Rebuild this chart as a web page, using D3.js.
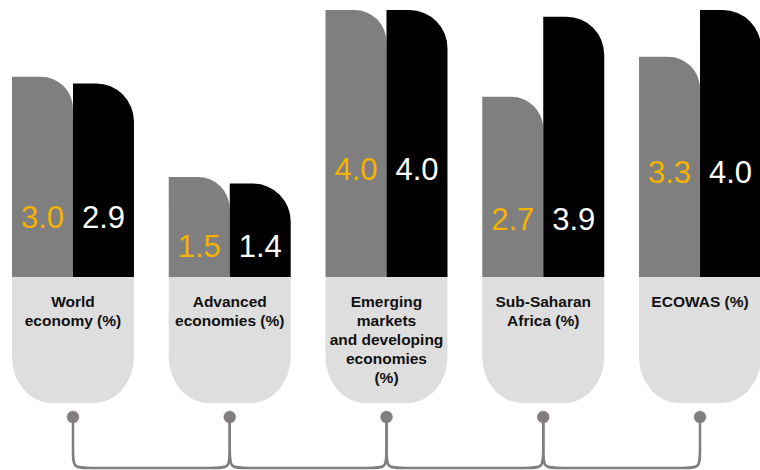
<!DOCTYPE html>
<html>
<head>
<meta charset="utf-8">
<script src="https://cdn.jsdelivr.net/npm/d3@7"></script>
<style>
  body { margin: 0; background: #fff; }
  svg { display: block; font-family: "Liberation Sans", Arial, Helvetica, sans-serif; }
</style>
</head>
<body>
<div id="chart"></div>
<script>
// categories, label lines and the two series (gray = first, black = second)
const categories = ["World", "Advanced", "Emerging", "SSA", "ECOWAS"];
const categoryLines = [
    ["World", "economy (%)"],
    ["Advanced", "economies (%)"],
    ["Emerging", "markets", "and developing", "economies", "(%)"],
    ["Sub-Saharan", "Africa (%)"],
    ["ECOWAS (%)"]
];
const seriesGray = [3.0, 1.5, 4.0, 2.7, 3.3];
const seriesBlack = [2.9, 1.4, 4.0, 3.9, 4.0];

const width = 760, height = 470;
const base = 277;          // bottom of the bars / top of label boxes
const boxBottom = 403;
const dotY = 417;
const lineY = 468;
// small vertical nudges for the value labels
const labelNudge = [1, 4, -28, 0, -37];

const svg = d3.select("#chart").append("svg")
    .attr("width", width)
    .attr("height", height);

const x = d3.scaleBand()
    .domain(categories)
    .range([12, 761])
    .paddingInner(0.222)
    .paddingOuter(0);

const y = d3.scaleLinear()
    .domain([0, 4])
    .range([base, 10]);

const bw = x.bandwidth() / 2;

// bar with a rounded top-right corner
function barPath(x0, w, top, r) {
    const x1 = x0 + w;
    return `M${x0},${base} V${top} H${x1 - r} A${r},${r} 0 0 1 ${x1},${top + r} V${base} Z`;
}

// label box with a rounded bottom
function boxPath(x0, w) {
    const x1 = x0 + w, rx = 40, ry = 46;
    return `M${x0},${base} H${x1} V${boxBottom - ry} A${rx},${ry} 0 0 1 ${x1 - rx},${boxBottom}`
        + ` H${x0 + rx} A${rx},${ry} 0 0 1 ${x0},${boxBottom - ry} Z`;
}

const groups = svg.selectAll(".group")
    .data(categories)
    .join("g")
    .attr("class", "group");

groups.append("path")
    .attr("d", d => boxPath(x(d), x.bandwidth()))
    .attr("fill", "#dedede");

groups.append("path")
    .attr("d", (d, i) => barPath(x(d), bw, y(seriesGray[i]), 32))
    .attr("fill", "#7f7f7f");

groups.append("path")
    .attr("d", (d, i) => barPath(x(d) + bw, bw, y(seriesBlack[i]), 38))
    .attr("fill", "#000");

// value labels
const labelY = i => {
    const top = y(Math.min(seriesGray[i], seriesBlack[i]));
    return top + 0.74 * (base - top) + labelNudge[i];
};

groups.append("text")
    .attr("x", d => x(d) + bw / 2)
    .attr("y", (d, i) => labelY(i))
    .attr("text-anchor", "middle")
    .attr("font-size", 31)
    .attr("fill", "#f5b300")
    .text((d, i) => seriesGray[i].toFixed(1));

groups.append("text")
    .attr("x", d => x(d) + bw * 1.5)
    .attr("y", (d, i) => labelY(i))
    .attr("text-anchor", "middle")
    .attr("font-size", 31)
    .attr("fill", "#fff")
    .text((d, i) => seriesBlack[i].toFixed(1));

// category names
groups.append("text")
    .attr("text-anchor", "middle")
    .attr("font-size", 15.5)
    .attr("font-weight", "bold")
    .attr("fill", "#111")
    .selectAll("tspan")
    .data((d, i) => categoryLines[i].map(t => ({ t, cx: x(d) + x.bandwidth() / 2 })))
    .join("tspan")
    .attr("x", d => d.cx)
    .attr("y", (d, j) => 307 + j * 19)
    .text(d => d.t);

// connectors between neighbouring dots
const cx = d => x(d) + x.bandwidth() / 2;
const r = 20;
const links = d3.pairs(categories);
svg.selectAll(".link")
    .data(links)
    .join("path")
    .attr("class", "link")
    .attr("fill", "none")
    .attr("stroke", "#7f7f7f")
    .attr("stroke-width", 2.5)
    .attr("d", ([a, b]) => {
        const xa = cx(a), xb = cx(b);
        return `M${xa},${dotY} V${lineY - r} C${xa},${lineY} ${xa},${lineY} ${xa + r},${lineY}`
            + ` H${xb - r} C${xb},${lineY} ${xb},${lineY} ${xb},${lineY - r} V${dotY}`;
    });

svg.selectAll(".dot")
    .data(categories)
    .join("circle")
    .attr("class", "dot")
    .attr("cx", cx)
    .attr("cy", dotY)
    .attr("r", 6)
    .attr("fill", "#7f7f7f")
    .attr("stroke", "#9a7070")
    .attr("stroke-width", 0.4);
</script>
</body>
</html>
